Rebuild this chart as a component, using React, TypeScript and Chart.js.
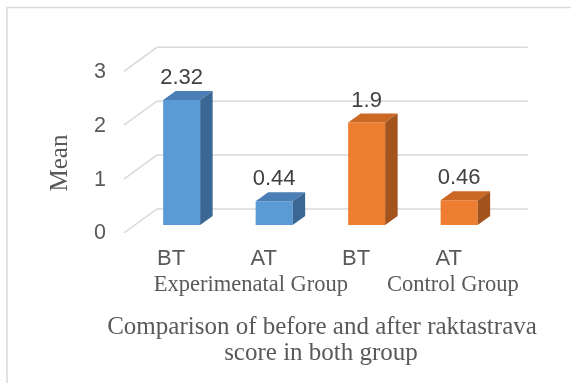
import React, { useEffect, useRef } from "react";
import { Chart, registerables } from "chart.js";

Chart.register(...registerables);

// ---- data ----
const categories = ["BT", "AT", "BT", "AT"];
const meanScores = [2.32, 0.44, 1.9, 0.46];
const groupLabels = ["Experimenatal Group", "Control Group"];
const yAxisTitle = "Mean";
const chartTitle = ["Comparison of before and after raktastrava", "score in both group"];

// ---- styling ----
const frontColors = ["#5B9BD5", "#5B9BD5", "#ED7D31", "#ED7D31"];
const topColors = ["#4A7EB5", "#4A7EB5", "#CB6824", "#CB6824"];
const sideColors = ["#3B6794", "#3B6794", "#A3531C", "#A3531C"];

const SANS = "'Liberation Sans', Arial, sans-serif";
const SERIF = "'Liberation Serif', 'Times New Roman', serif";
const TEXT = "#595959";
const LABEL = "#404040";
const GRID = "#D9D9D9";

// depth of each bar box and of the back wall (relative to the bar plane)
const BOX_DX = 12.5;
const BOX_DY = -9;
const WALL_FRONT = { dx: -11.5, dy: 8 };
const WALL_BACK = { dx: 21.5, dy: -16 };

const chart3d = {
  id: "chart3d",
  beforeDraw(chart: any) {
    const { ctx } = chart;
    ctx.save();
    ctx.fillStyle = "#FFFFFF";
    ctx.fillRect(0, 0, chart.width, chart.height);
    ctx.strokeStyle = GRID;
    ctx.lineWidth = 1.5;
    ctx.strokeRect(7, 7.5, chart.width + 40, chart.height + 40);
    ctx.restore();
  },
  beforeDatasetsDraw(chart: any) {
    const { ctx, chartArea: a } = chart;
    const yScale = chart.scales.y;
    ctx.save();
    ctx.strokeStyle = GRID;
    ctx.lineWidth = 1.5;
    for (const t of yScale.ticks) {
      const py = yScale.getPixelForValue(t.value);
      ctx.beginPath();
      ctx.moveTo(a.left + WALL_FRONT.dx, py + WALL_FRONT.dy);
      ctx.lineTo(a.left + WALL_BACK.dx, py + WALL_BACK.dy);
      ctx.lineTo(a.right + WALL_BACK.dx + 1, py + WALL_BACK.dy);
      ctx.stroke();
    }
    ctx.restore();
  },
  afterDatasetsDraw(chart: any) {
    const { ctx } = chart;
    const meta = chart.getDatasetMeta(0);
    const xScale = chart.scales.x;
    ctx.save();
    meta.data.forEach((bar: any, i: number) => {
      const { x, y, base, width } = bar.getProps(["x", "y", "base", "width"], true);
      const l = x - width / 2;
      const r = x + width / 2;
      // top face
      ctx.fillStyle = topColors[i];
      ctx.beginPath();
      ctx.moveTo(l, y);
      ctx.lineTo(r, y);
      ctx.lineTo(r + BOX_DX, y + BOX_DY);
      ctx.lineTo(l + BOX_DX, y + BOX_DY);
      ctx.closePath();
      ctx.fill();
      // side face
      ctx.fillStyle = sideColors[i];
      ctx.beginPath();
      ctx.moveTo(r, y);
      ctx.lineTo(r + BOX_DX, y + BOX_DY);
      ctx.lineTo(r + BOX_DX, base + BOX_DY);
      ctx.lineTo(r, base);
      ctx.closePath();
      ctx.fill();
      // value label
      ctx.fillStyle = LABEL;
      ctx.font = `22px ${SANS}`;
      ctx.textAlign = "center";
      ctx.textBaseline = "middle";
      ctx.fillText(String(meanScores[i]), x, y - 22);
    });

    // group labels under the category labels
    ctx.fillStyle = TEXT;
    ctx.font = `22.5px ${SERIF}`;
    ctx.textAlign = "center";
    ctx.textBaseline = "middle";
    const p = (i: number) => xScale.getPixelForValue(i);
    ctx.fillText(groupLabels[0], (p(0) + p(1)) / 2 + 23, 285);
    ctx.fillText(groupLabels[1], (p(2) + p(3)) / 2 + 40, 285);

    // axis title
    ctx.save();
    ctx.translate(60, 163);
    ctx.rotate(-Math.PI / 2);
    ctx.font = `25px ${SERIF}`;
    ctx.fillText(yAxisTitle, 0, 0);
    ctx.restore();

    // chart title
    ctx.font = `25px ${SERIF}`;
    ctx.fillText(chartTitle[0], 322, 327);
    ctx.fillText(chartTitle[1], 321, 353);
    ctx.restore();
  },
};

export default function App() {
  const canvasRef = useRef<HTMLCanvasElement | null>(null);

  useEffect(() => {
    if (!canvasRef.current) return;
    const chart = new Chart(canvasRef.current, {
      type: "bar",
      data: {
        labels: categories,
        datasets: [
          {
            data: meanScores,
            backgroundColor: frontColors,
            borderWidth: 0,
            barPercentage: 0.8,
            categoryPercentage: 0.5,
          },
        ],
      },
      options: {
        responsive: false,
        animation: false,
        events: [],
        layout: { padding: { left: 0, top: 63.3, right: 65.6, bottom: 0 } },
        plugins: {
          legend: { display: false },
          title: { display: false },
          tooltip: { enabled: false },
        },
        scales: {
          x: {
            grid: { display: false, drawTicks: false },
            border: { display: false },
            ticks: {
              color: TEXT,
              font: { family: SANS, size: 22 },
              padding: 20.8,
              labelOffset: -10.5,
              maxRotation: 0,
            },
            afterFit: (s: any) => {
              s.height = 158;
            },
          },
          y: {
            min: 0,
            max: 3,
            grid: { display: false, drawTicks: false },
            border: { display: false },
            ticks: {
              stepSize: 1,
              color: TEXT,
              font: { family: SANS, size: 21.5 },
              padding: 29.4,
              labelOffset: 8.5,
            },
            afterFit: (s: any) => {
              s.width = 135.4;
            },
          },
        },
      },
      plugins: [chart3d],
    });
    return () => chart.destroy();
  }, []);

  return (
    <div style={{ position: "fixed", left: 0, top: 0, width: 571, height: 383, background: "#fff" }}>
      <canvas ref={canvasRef} width={571} height={383} style={{ display: "block" }} />
    </div>
  );
}
